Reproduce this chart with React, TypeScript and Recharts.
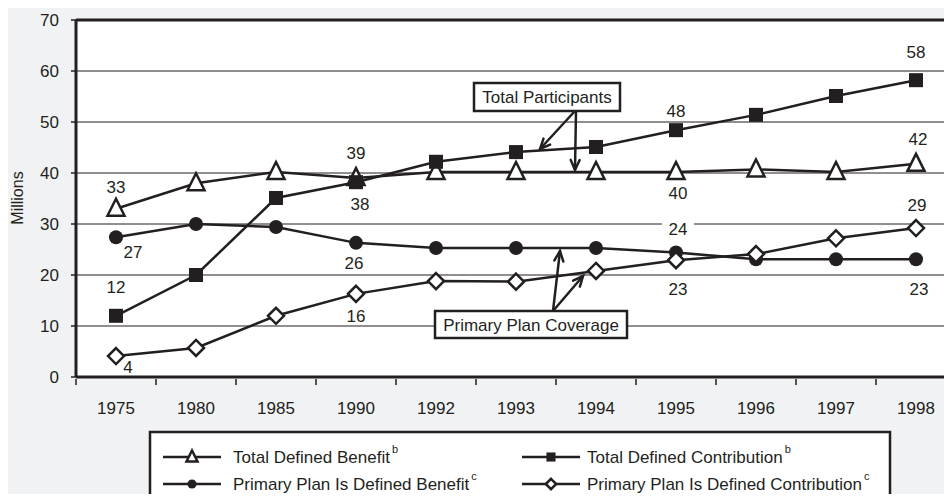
import React from 'react'
import { LineChart, Line, XAxis, YAxis, CartesianGrid, ReferenceLine, LabelList } from 'recharts'

const years = ['1975', '1980', '1985', '1990', '1992', '1993', '1994', '1995', '1996', '1997', '1998']
const totalDB = [33, 38, 40.2, 39, 40.2, 40.2, 40.2, 40.2, 40.7, 40.2, 41.8]
const totalDC = [12, 20, 35.1, 38.2, 42.2, 44.1, 45.1, 48.4, 51.4, 55.1, 58.2]
const primaryDB = [27.4, 30, 29.4, 26.3, 25.3, 25.3, 25.3, 24.4, 23.1, 23.1, 23.1]
const primaryDC = [4.1, 5.7, 12, 16.3, 18.8, 18.7, 20.8, 22.9, 24.1, 27.2, 29.2]
const yTicks = [0, 10, 20, 30, 40, 50, 60, 70]

const INK = '#231f20'
const BG = '#f1f2f4'
const FONT = '"Liberation Sans", Arial, sans-serif'
const FS = 17

const rows = years.map((year, i) => ({
  year,
  tdb: totalDB[i],
  tdc: totalDC[i],
  pdb: primaryDB[i],
  pdc: primaryDC[i],
}))

type MarkerKind = 'tri' | 'sq' | 'dot' | 'dia'

function marker(kind: MarkerKind, cx: number, cy: number, s = 1, key?: any) {
  if (kind === 'tri') {
    const pts = `${cx},${cy - 10 * s} ${cx - 8.5 * s},${cy + 7 * s} ${cx + 8.5 * s},${cy + 7 * s}`
    return <polygon key={key} points={pts} fill="#fff" stroke={INK} strokeWidth={2.5} strokeLinejoin="miter" />
  }
  if (kind === 'sq') {
    const h = 7 * s
    return <rect key={key} x={cx - h} y={cy - h} width={h * 2} height={h * 2} fill={INK} />
  }
  if (kind === 'dot') {
    return <circle key={key} cx={cx} cy={cy} r={7 * s} fill={INK} />
  }
  const d = 8 * s
  const pts = `${cx},${cy - d} ${cx + d},${cy} ${cx},${cy + d} ${cx - d},${cy}`
  return <polygon key={key} points={pts} fill="#fff" stroke={INK} strokeWidth={2.5} />
}

const series: { key: 'tdb' | 'tdc' | 'pdb' | 'pdc'; name: string; sup: string; kind: MarkerKind }[] = [
  { key: 'tdb', name: 'Total Defined Benefit', sup: 'b', kind: 'tri' },
  { key: 'tdc', name: 'Total Defined Contribution', sup: 'b', kind: 'sq' },
  { key: 'pdb', name: 'Primary Plan Is Defined Benefit', sup: 'c', kind: 'dot' },
  { key: 'pdc', name: 'Primary Plan Is Defined Contribution', sup: 'c', kind: 'dia' },
]

// which points get a value label, and where (offset from the point)
const labelSpots: Record<string, Record<number, [number, number]>> = {
  tdb: { 0: [0, -21], 3: [0, -25], 7: [2, 22], 10: [2, -24] },
  tdc: { 0: [0, -28], 3: [4, 22], 7: [0, -19], 10: [0, -28] },
  pdb: { 0: [17, 15], 3: [-2, 21], 7: [2, -23], 10: [3, 30] },
  pdc: { 0: [12, 11], 3: [0, 23], 7: [2, 29], 10: [1, -23] },
}
const maskedLabels: Record<string, number[]> = { pdb: [7] }

const labelFor = (key: string) => (props: any) => {
  const { x, y, value, index } = props
  const spot = labelSpots[key][index]
  if (!spot) return null
  const tx = x + spot[0]
  const ty = y + spot[1]
  const masked = (maskedLabels[key] || []).includes(index)
  return (
    <g key={`${key}-${index}`}>
      {masked && <rect x={tx - 16} y={ty - 10} width={32} height={20} fill="#fff" />}
      <text x={tx} y={ty} textAnchor="middle" dominantBaseline="central" fontSize={FS} fontFamily={FONT} fill={INK}>
        {Math.round(value)}
      </text>
    </g>
  )
}

const HALF_STEP = 40

const XTick = (props: any) => {
  const { x, y, payload, index } = props
  return (
    <g>
      <line x1={x - HALF_STEP} y1={y} x2={x - HALF_STEP} y2={y + 6} stroke={INK} strokeWidth={1.5} />
      {index === years.length - 1 && (
        <line x1={x + HALF_STEP} y1={y} x2={x + HALF_STEP} y2={y + 6} stroke={INK} strokeWidth={1.5} />
      )}
      <text x={x} y={y + 29} textAnchor="middle" dominantBaseline="central" fontSize={FS} fontFamily={FONT} fill={INK}>
        {payload.value}
      </text>
    </g>
  )
}

function Arrow({ x1, y1, x2, y2 }: { x1: number; y1: number; x2: number; y2: number }) {
  const a = Math.atan2(y2 - y1, x2 - x1)
  const len = 11
  const spread = 0.42
  const p1 = [x2 - len * Math.cos(a - spread), y2 - len * Math.sin(a - spread)]
  const p2 = [x2 - len * Math.cos(a + spread), y2 - len * Math.sin(a + spread)]
  return (
    <g stroke={INK} strokeWidth={2.5} fill="none" strokeLinecap="round">
      <line x1={x1} y1={y1} x2={x2} y2={y2} />
      <polyline points={`${p1[0]},${p1[1]} ${x2},${y2} ${p2[0]},${p2[1]}`} />
    </g>
  )
}

function Overlay() {
  const legendPos = [
    { lx: 163, tx: 233, y: 457 },
    { lx: 522, tx: 587, y: 457 },
    { lx: 163, tx: 233, y: 484 },
    { lx: 522, tx: 587, y: 484 },
  ]
  return (
    <svg width={952} height={502} style={{ position: 'absolute', left: 0, top: 0, pointerEvents: 'none' }}>
      <text x={481} y={5} textAnchor="middle" fontSize={22} fontWeight="bold" fontFamily={FONT} fill={INK}
        textLength={743} lengthAdjust="spacingAndGlyphs">
        DEFINED BENEFIT–DEFINED CONTRIBUTION TRENDS: PARTICIPANTS
      </text>

      <text transform="translate(17,198) rotate(-90)" textAnchor="middle" dominantBaseline="central"
        fontSize={16} fontFamily={FONT} fill={INK}>
        Millions
      </text>

      {/* Total Participants callout */}
      <Arrow x1={575} y1={111} x2={540} y2={149} />
      <Arrow x1={576} y1={111} x2={575} y2={170} />
      <rect x={474} y={83} width={146} height={28} fill="#fff" stroke={INK} strokeWidth={2.5} />
      <text x={547} y={97} textAnchor="middle" dominantBaseline="central" fontSize={FS} fontFamily={FONT} fill={INK}>
        Total Participants
      </text>

      {/* Primary Plan Coverage callout */}
      <Arrow x1={553} y1={311} x2={560} y2={251} />
      <Arrow x1={553} y1={311} x2={583} y2={276} />
      <rect x={435} y={311} width={192} height={27} fill="#fff" stroke={INK} strokeWidth={2.5} />
      <text x={531} y={325} textAnchor="middle" dominantBaseline="central" fontSize={FS} fontFamily={FONT} fill={INK}>
        Primary Plan Coverage
      </text>

      {/* legend */}
      <rect x={150} y={432} width={740} height={90} fill="#fff" stroke={INK} strokeWidth={2.5} />
      {series.map((s, i) => {
        const p = legendPos[i]
        return (
          <g key={s.key}>
            <line x1={p.lx} y1={p.y} x2={p.lx + 58} y2={p.y} stroke={INK} strokeWidth={2.5} />
            {marker(s.kind, p.lx + 29, p.y, 0.65)}
            <text x={p.tx} y={p.y} dominantBaseline="central" fontSize={FS} fontFamily={FONT} fill={INK}>
              {s.name}
              <tspan dx={2} dy={-8} fontSize={11}>{s.sup}</tspan>
            </text>
          </g>
        )
      })}
    </svg>
  )
}

export default function App() {
  return (
    <div style={{ position: 'relative', width: 952, height: 502, margin: -8, overflow: 'hidden', background: BG, fontFamily: FONT }}>
      <LineChart width={960} height={502} data={rows} margin={{ top: 20, right: 4, bottom: 0, left: 0 }}>
        <CartesianGrid vertical={false} stroke={INK} strokeWidth={1} fill="#fff" fillOpacity={1} />
        <XAxis
          dataKey="year"
          padding={{ left: HALF_STEP, right: HALF_STEP }}
          interval={0}
          tickSize={0}
          tickLine={false}
          axisLine={{ stroke: INK, strokeWidth: 3 }}
          tick={(p: any) => <XTick {...p} />}
          height={125}
        />
        <YAxis
          domain={[0, 70]}
          ticks={yTicks}
          interval={0}
          width={76}
          tickSize={5}
          tickMargin={12}
          axisLine={{ stroke: INK, strokeWidth: 3 }}
          tickLine={{ stroke: INK, strokeWidth: 1.5 }}
          tick={{ fill: INK, fontSize: FS, fontFamily: FONT }}
        />
        <ReferenceLine y={70} stroke={INK} strokeWidth={3} />
        {series.map((s) => (
          <Line
            key={s.key}
            dataKey={s.key}
            name={s.name}
            stroke={INK}
            strokeWidth={2.5}
            dot={(p: any) => marker(s.kind, p.cx, p.cy, 1, p.index)}
            activeDot={false}
            isAnimationActive={false}
          >
            <LabelList dataKey={s.key} content={labelFor(s.key)} />
          </Line>
        ))}
      </LineChart>
      <Overlay />
    </div>
  )
}
